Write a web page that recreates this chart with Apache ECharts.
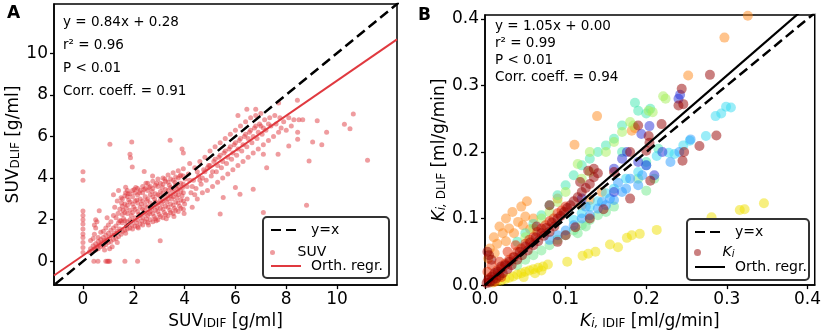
<!DOCTYPE html>
<html>
<head>
<meta charset="utf-8">
<script src="https://cdn.jsdelivr.net/npm/echarts@6/dist/echarts.min.js"></script>
<style>
html, body { margin: 0; padding: 0; background: #fff; }
#chart { width: 824px; height: 335px; }
</style>
</head>
<body>
<div id="chart"></div>
<script>
var FONT = 'DejaVu Sans';

// ---- panel A : SUV ----
var suvTicks = [0, 2, 4, 6, 8, 10];
var suvRange = [-1.14, 12.36];
var suvFit = { slope: 0.84, icpt: 0.28 };
var suvStats = ['y = 0.84x + 0.28', 'r² = 0.96', 'P < 0.01', 'Corr. coeff. = 0.91'];

// dense core, one row per x with its y values
var suvCoreRows = [
    [1.55, [1.45, 1.85, 2.25, 2.65, 3.0]],
    [1.65, [1.5, 1.95, 2.35, 2.75, 3.15]],
    [1.75, [1.55, 1.9, 2.3, 2.7, 3.1, 3.4]],
    [1.85, [1.6, 2.0, 2.45, 2.85, 3.25]],
    [1.95, [1.55, 1.95, 2.35, 2.75, 3.1, 3.4]],
    [2.05, [1.7, 2.1, 2.5, 2.9, 3.3]],
    [2.15, [1.65, 2.0, 2.4, 2.8, 3.2, 3.5]],
    [2.25, [1.8, 2.2, 2.6, 3.0, 3.4]],
    [2.35, [1.75, 2.1, 2.5, 2.9, 3.3, 3.6]],
    [2.45, [1.9, 2.3, 2.7, 3.1, 3.5]],
    [2.55, [1.85, 2.2, 2.6, 3.0, 3.4, 3.75]],
    [2.65, [2.0, 2.4, 2.8, 3.2, 3.6]],
    [2.75, [1.9, 2.3, 2.7, 3.1, 3.5, 3.85]],
    [2.85, [2.05, 2.45, 2.85, 3.25, 3.65]],
    [2.95, [2.0, 2.4, 2.8, 3.2, 3.6, 3.95]],
    [3.05, [2.15, 2.55, 2.95, 3.35, 3.75]],
    [3.15, [2.1, 2.5, 2.9, 3.3, 3.7, 4.0]],
    [3.25, [2.25, 2.65, 3.05, 3.45, 3.85]],
    [3.35, [2.2, 2.6, 3.0, 3.4, 3.8, 4.15]],
    [3.45, [2.35, 2.75, 3.15, 3.55, 3.95]],
    [3.55, [2.3, 2.7, 3.1, 3.5, 3.9, 4.25]],
    [3.65, [2.45, 2.85, 3.25, 3.65, 4.05]],
    [3.75, [2.4, 2.8, 3.2, 3.6, 4.0, 4.35]],
    [3.85, [2.55, 2.95, 3.35, 3.75, 4.15]],
    [3.95, [2.5, 2.9, 3.3, 3.7, 4.1, 4.45]]
];

var suvCoreExtra = [
    [1.6, 2.05], [1.7, 2.55], [1.72, 1.72], [1.8, 2.95], [1.9, 2.2], [1.92, 1.75], [2.0, 2.6], [2.02, 3.45], [2.1, 1.85],
    [2.12, 2.95], [2.2, 2.25], [2.22, 3.3], [2.3, 2.75], [2.32, 1.95], [2.4, 3.45], [2.42, 2.45], [2.5, 2.05], [2.52, 2.9],
    [2.6, 3.55], [2.62, 2.3], [2.7, 2.55], [2.72, 3.35], [2.8, 2.15], [2.82, 3.0], [2.9, 3.75], [2.92, 2.6], [3.0, 2.25],
    [3.02, 3.15], [3.1, 2.75], [3.12, 3.55], [3.2, 2.35], [3.22, 3.95], [3.3, 2.85], [3.32, 3.25], [3.4, 3.65], [3.42, 2.45],
    [3.5, 3.0], [3.52, 3.35], [3.6, 2.55], [3.62, 3.8], [3.7, 3.05], [3.72, 3.45], [3.8, 2.65], [3.82, 4.1], [3.9, 3.15],
    [3.92, 3.55], [4.0, 2.75], [4.02, 3.95], [1.58, 2.45], [1.68, 1.35], [1.78, 3.25], [2.08, 3.55], [2.18, 1.6], [2.48, 3.75],
    [2.58, 1.75], [2.88, 1.95], [3.28, 2.05], [3.58, 2.15], [3.98, 2.3], [1.38, 2.3], [1.45, 1.95], [1.52, 2.8]
];

var suvLow = [
    [0, 0.43], [0, 0.67], [0, 0.91], [0, 1.15], [0, 1.31], [0, 1.55], [0, 1.79], [0, 2.0], [0, 2.2], [0, 2.42], [0, 3.9], [0, 4.3],
    [0.43, 0], [0.59, 0], [0.9, 0], [0.96, 0], [1.0, 0], [1.05, 0], [1.65, 0], [2.15, 0],
    [0.25, 0.45], [0.3, 0.6], [0.35, 0.5], [0.4, 0.75], [0.45, 0.6], [0.5, 0.85], [0.5, 0.55], [0.55, 0.7], [0.6, 0.95],
    [0.6, 0.6], [0.65, 0.8], [0.7, 1.05], [0.7, 0.7], [0.75, 0.9], [0.8, 1.15], [0.8, 0.75], [0.85, 1.0], [0.9, 1.25],
    [0.9, 0.8], [0.95, 1.05], [1.0, 1.35], [1.0, 0.9], [1.05, 1.15], [1.1, 1.5], [1.1, 0.95], [1.15, 1.25], [1.2, 1.6],
    [1.2, 1.05], [1.25, 1.35], [1.3, 1.7], [1.3, 1.1], [1.35, 1.45], [1.4, 1.85], [1.4, 1.2], [1.45, 1.55], [1.5, 1.95],
    [1.5, 1.3], [0.45, 1.3], [0.5, 1.6], [0.55, 1.9], [0.6, 1.15], [0.5, 2.0], [0.9, 1.6], [0.3, 1.0], [1.0, 1.75],
    [0.8, 1.45], [0.64, 2.43], [0.4, 1.1], [0.45, 1.75], [0.95, 2.1], [1.2, 2.2], [1.25, 2.6], [1.35, 2.9], [1.2, 3.2],
    [1.4, 3.4], [1.5, 3.05], [1.45, 2.5], [0.7, 1.4], [1.1, 1.9], [1.3, 2.1], [0.85, 0.55], [1.15, 0.7], [1.35, 0.9], [1.05, 0.6]
];

var suvHigh = [
    [4.1, 3.0], [4.1, 3.6], [4.15, 4.2], [4.2, 4.7], [4.25, 3.3], [4.3, 2.6], [4.35, 3.9], [4.4, 4.5], [4.45, 3.5], [4.5, 3.0],
    [4.55, 4.1], [4.6, 4.8], [4.65, 3.7], [4.7, 3.3], [4.75, 4.4], [4.8, 5.0], [4.85, 3.9], [4.9, 3.4], [4.95, 4.6], [5.0, 5.3],
    [5.05, 4.1], [5.1, 3.6], [5.15, 4.8], [5.2, 5.5], [5.25, 4.3], [5.3, 3.8], [5.35, 5.0], [5.4, 5.7], [5.45, 4.5], [5.5, 4.0],
    [5.55, 5.2], [5.6, 5.9], [5.65, 4.7], [5.7, 4.2], [5.75, 5.4], [5.8, 6.1], [5.85, 4.9], [5.9, 4.4], [5.95, 5.6], [6.0, 6.3],
    [6.05, 5.1], [6.1, 4.6], [6.15, 5.8], [6.2, 6.5], [6.25, 5.3], [6.3, 4.8], [6.35, 6.0], [6.4, 6.7], [6.45, 5.5], [6.5, 5.0],
    [6.55, 6.2], [6.6, 6.9], [6.65, 5.7], [6.7, 5.2], [6.75, 6.4], [6.8, 7.0], [6.85, 5.9], [6.9, 5.4], [6.95, 6.6], [7.0, 7.1],
    [7.05, 6.1], [7.1, 5.6], [7.15, 6.8], [7.2, 6.3], [7.3, 5.8], [7.35, 6.9], [7.4, 6.5], [7.5, 6.0], [7.55, 7.0], [7.6, 6.6],
    [7.7, 6.2], [7.75, 6.9], [7.8, 6.4], [7.9, 6.7], [8.0, 6.3], [8.1, 6.9], [8.2, 6.5],
    [4.2, 3.9], [4.4, 3.2], [4.6, 3.9], [4.8, 4.3], [5.0, 4.6], [5.2, 4.9], [5.4, 5.1], [5.6, 5.3], [5.8, 5.5], [6.0, 5.7],
    [6.2, 5.9], [6.4, 6.1], [6.6, 6.3], [6.8, 6.5], [7.0, 6.5], [4.3, 3.6], [4.5, 4.3], [4.7, 4.0], [4.9, 4.5], [5.1, 4.3],
    [5.3, 4.6], [5.5, 4.8], [5.7, 5.0], [5.9, 5.2], [6.1, 5.4], [6.3, 5.6], [6.5, 5.9], [6.7, 6.0], [6.9, 6.2], [7.1, 6.4], [7.3, 6.6]
];

var suvOutliers = [
    [1.06, 5.62], [1.92, 5.73], [1.85, 5.15], [1.87, 4.98], [1.94, 4.53], [2.41, 4.31], [1.68, 3.56], [1.68, 3.3],
    [3.43, 5.82], [2.74, 4.1], [3.9, 5.4], [3.95, 5.2], [10.64, 7.08], [10.29, 6.59], [10.51, 6.37], [11.2, 4.85],
    [9.22, 6.75], [9.59, 6.2], [9.04, 5.73], [9.4, 5.6], [8.9, 4.82], [8.8, 2.7], [8.44, 7.74], [8.45, 5.86], [8.45, 6.2],
    [8.1, 5.54], [7.68, 5.14], [7.1, 5.14], [7.23, 4.5], [7.1, 2.35], [6.7, 3.46], [6.0, 3.55], [6.18, 3.22], [5.52, 3.07],
    [5.4, 2.27], [3.04, 0.99], [6.1, 7.0], [6.45, 7.3], [6.8, 7.3], [7.7, 7.6], [8.3, 6.8], [8.5, 6.8], [8.65, 6.8]
];

// ---- panel B : Ki ----
var kiTicks = [0, 0.1, 0.2, 0.3, 0.4];
var kiXRange = [0, 0.409];
var kiYRange = [0, 0.406];
var kiFit = { slope: 1.05, icpt: 0.0 };
var kiStats = ['y = 1.05x + 0.00', 'r² = 0.99', 'P < 0.01', 'Corr. coeff. = 0.94'];

var kiYellow = [
    [0.346, 0.123], [0.322, 0.114], [0.316, 0.113], [0.281, 0.102], [0.264, 0.087], [0.213, 0.083], [0.192, 0.077],
    [0.182, 0.075], [0.176, 0.071], [0.165, 0.057], [0.155, 0.061], [0.137, 0.05], [0.128, 0.047], [0.121, 0.044],
    [0.102, 0.035], [0.078, 0.031], [0.072, 0.028], [0.066, 0.026], [0.06, 0.024], [0.055, 0.022], [0.05, 0.02],
    [0.045, 0.018], [0.04, 0.016], [0.035, 0.013], [0.03, 0.011], [0.025, 0.009], [0.02, 0.007], [0.015, 0.006],
    [0.01, 0.004], [0.062, 0.018], [0.07, 0.022], [0.048, 0.012]
];
var kiOrange = [
    [0.326, 0.405], [0.297, 0.372], [0.252, 0.315], [0.139, 0.254], [0.111, 0.211], [0.052, 0.126], [0.045, 0.118],
    [0.034, 0.11], [0.05, 0.103], [0.026, 0.1], [0.041, 0.095], [0.018, 0.088], [0.03, 0.085], [0.047, 0.09],
    [0.022, 0.078], [0.011, 0.072], [0.036, 0.078], [0.015, 0.062], [0.026, 0.066], [0.006, 0.055], [0.012, 0.048],
    [0.004, 0.04], [0.182, 0.232], [0.186, 0.236], [0.06, 0.1], [0.056, 0.084], [0.09, 0.13], [0.12, 0.12],
    [0.13, 0.128], [0.145, 0.14]
];
var kiTeal = [
    [0.186, 0.274], [0.19, 0.262], [0.205, 0.265], [0.2, 0.258], [0.17, 0.24], [0.15, 0.21], [0.16, 0.22], [0.14, 0.2],
    [0.13, 0.19], [0.12, 0.18], [0.11, 0.165], [0.1, 0.15], [0.09, 0.135], [0.08, 0.12], [0.07, 0.105], [0.06, 0.092],
    [0.05, 0.078], [0.04, 0.065], [0.17, 0.2], [0.2, 0.185], [0.215, 0.205]
];
var kiLime = [
    [0.221, 0.284], [0.224, 0.28], [0.203, 0.262], [0.208, 0.26], [0.18, 0.245], [0.184, 0.24], [0.17, 0.23],
    [0.16, 0.215], [0.15, 0.2], [0.13, 0.17], [0.12, 0.16], [0.1, 0.14], [0.09, 0.125], [0.08, 0.11], [0.07, 0.1],
    [0.06, 0.085], [0.05, 0.072], [0.13, 0.2], [0.115, 0.182]
];
var kiGreen = [
    [0.06, 0.045], [0.07, 0.052], [0.08, 0.06], [0.09, 0.068], [0.1, 0.075], [0.11, 0.082], [0.12, 0.09], [0.13, 0.098],
    [0.14, 0.105], [0.15, 0.11], [0.16, 0.118], [0.05, 0.038], [0.04, 0.03], [0.115, 0.078], [0.125, 0.088],
    [0.2, 0.142], [0.19, 0.16], [0.21, 0.16]
];
var kiCyan = [
    [0.305, 0.267], [0.299, 0.268], [0.293, 0.258], [0.286, 0.254], [0.274, 0.224], [0.254, 0.217], [0.246, 0.21],
    [0.235, 0.197], [0.228, 0.199], [0.213, 0.194], [0.2, 0.18], [0.19, 0.17], [0.175, 0.16], [0.16, 0.145],
    [0.15, 0.138], [0.14, 0.126], [0.13, 0.118], [0.12, 0.108], [0.11, 0.098]
];
var kiSky = [
    [0.165, 0.154], [0.18, 0.16], [0.195, 0.165], [0.17, 0.14], [0.155, 0.13], [0.14, 0.115], [0.13, 0.105], [0.12, 0.1],
    [0.11, 0.09], [0.1, 0.082], [0.09, 0.075], [0.15, 0.12], [0.16, 0.128], [0.175, 0.145], [0.19, 0.15], [0.08, 0.068],
    [0.125, 0.118], [0.145, 0.125], [0.23, 0.185], [0.255, 0.219], [0.241, 0.2]
];
var kiBlue = [
    [0.24, 0.28], [0.242, 0.286], [0.204, 0.239], [0.194, 0.227], [0.176, 0.2], [0.17, 0.19], [0.16, 0.175], [0.2, 0.18],
    [0.22, 0.2], [0.16, 0.14], [0.12, 0.13], [0.19, 0.185], [0.21, 0.165]
];
var kiRed = [
    [0.005, 0.01], [0.01, 0.015], [0.015, 0.022], [0.02, 0.025], [0.025, 0.032], [0.03, 0.038], [0.035, 0.042], [0.04, 0.05],
    [0.045, 0.055], [0.05, 0.062], [0.055, 0.068], [0.06, 0.072], [0.065, 0.08], [0.07, 0.085], [0.075, 0.09], [0.08, 0.096],
    [0.085, 0.1], [0.09, 0.108], [0.095, 0.112], [0.1, 0.118], [0.018, 0.035], [0.028, 0.05], [0.038, 0.06], [0.008, 0.03],
    [0.003, 0.02], [0.012, 0.005], [0.02, 0.012]
];
var kiDarkRed = [
    [0.002, 0.003], [0.004, 0.008], [0.006, 0.004], [0.008, 0.012], [0.01, 0.008], [0.012, 0.018], [0.014, 0.01], [0.016, 0.02],
    [0.018, 0.014], [0.02, 0.028], [0.022, 0.018], [0.025, 0.03], [0.028, 0.024], [0.03, 0.035], [0.033, 0.03], [0.036, 0.042],
    [0.04, 0.038], [0.043, 0.05], [0.046, 0.045], [0.05, 0.058], [0.053, 0.052], [0.056, 0.064], [0.06, 0.06], [0.063, 0.072],
    [0.066, 0.066], [0.07, 0.078], [0.073, 0.074], [0.076, 0.086], [0.08, 0.08], [0.083, 0.094], [0.086, 0.088], [0.09, 0.1],
    [0.094, 0.104], [0.098, 0.11], [0.102, 0.116], [0.106, 0.12], [0.11, 0.126], [0.115, 0.132], [0.12, 0.14], [0.125, 0.146],
    [0.13, 0.152], [0.135, 0.162], [0.14, 0.168], [0.128, 0.172], [0.135, 0.175], [0.118, 0.155], [0.005, 0.045], [0.008, 0.038],
    [0.003, 0.05], [0.279, 0.316], [0.244, 0.295], [0.24, 0.27], [0.246, 0.272], [0.219, 0.242], [0.203, 0.224], [0.204, 0.214],
    [0.2, 0.202], [0.247, 0.2], [0.245, 0.187], [0.266, 0.209], [0.287, 0.225], [0.205, 0.157], [0.18, 0.13], [0.147, 0.114],
    [0.112, 0.087], [0.18, 0.2], [0.16, 0.17], [0.19, 0.24], [0.064, 0.088], [0.08, 0.12], [0.1, 0.075], [0.13, 0.1], [0.09, 0.065]
];

var kiGroups = [
    { data: kiYellow, color: '#f0e000' },
    { data: kiOrange, color: '#ff8a1c' },
    { data: kiTeal, color: '#40e8b0' },
    { data: kiLime, color: '#a6f05a' },
    { data: kiGreen, color: '#70ea8c' },
    { data: kiCyan, color: '#36dcf2' },
    { data: kiSky, color: '#2a9cff' },
    { data: kiBlue, color: '#2830d8' },
    { data: kiRed, color: '#e62a00' },
    { data: kiDarkRed, color: '#960000' }
];

var suvPoints = [];
suvCoreRows.forEach(function (r) {
    r[1].forEach(function (y) { suvPoints.push([r[0], y]); });
});
suvPoints = suvPoints.concat(suvCoreExtra, suvLow, suvHigh, suvOutliers);

function fitLine(f, lo, hi) {
    return [[lo, f.slope * lo + f.icpt], [hi, f.slope * hi + f.icpt]];
}

var subRich = {
    s: { fontSize: 12, fontFamily: FONT, lineHeight: 8, verticalAlign: 'bottom' },
    si: { fontSize: 12, fontFamily: FONT, fontStyle: 'italic', lineHeight: 8, verticalAlign: 'bottom' },
    k: { fontSize: 17, fontFamily: FONT, fontStyle: 'italic' }
};

function axis(gridIndex, range, ticks, fmt, name, gap) {
    return {
        type: 'value', gridIndex: gridIndex, min: range[0], max: range[1],
        name: name, nameLocation: 'middle', nameGap: gap,
        nameTextStyle: { fontSize: 17, fontFamily: FONT, color: '#000', rich: subRich },
        axisLine: { show: true, onZero: false, lineStyle: { color: '#000', width: 1.5 } },
        axisTick: { show: true, length: 4, customValues: ticks, lineStyle: { color: '#000', width: 1.3 } },
        axisLabel: { customValues: ticks, formatter: fmt, fontSize: 17, fontFamily: FONT, color: '#000', margin: 6 },
        splitLine: { show: false }
    };
}

var intFmt = function (v) { return String(Math.round(v)); };
var decFmt = function (v) { return v.toFixed(1); };

var series = [];
series.push({
    name: 'SUV', type: 'scatter', xAxisIndex: 0, yAxisIndex: 0, data: suvPoints,
    symbolSize: 5, itemStyle: { color: '#e0393f', opacity: 0.5 }, silent: true
});
series.push({
    name: 'yxA', type: 'line', xAxisIndex: 0, yAxisIndex: 0, data: [[-2, -2], [13, 13]],
    symbol: 'none', itemStyle: { color: '#000' }, lineStyle: { color: '#000', width: 2.5, type: [10, 5] }, clip: true
});
series.push({
    name: 'regA', type: 'line', xAxisIndex: 0, yAxisIndex: 0, data: fitLine(suvFit, suvRange[0], suvRange[1]),
    symbol: 'none', itemStyle: { color: '#e0393f' }, lineStyle: { color: '#e0393f', width: 2 }, clip: true
});
kiGroups.forEach(function (g, i) {
    series.push({
        name: i === kiGroups.length - 1 ? 'Ki' : 'ki' + i, type: 'scatter', xAxisIndex: 1, yAxisIndex: 1, data: g.data,
        symbolSize: 10, itemStyle: { color: g.color, opacity: 0.5 }, silent: true
    });
});
series.push({
    name: 'yxB', type: 'line', xAxisIndex: 1, yAxisIndex: 1, data: [[0, 0], [0.41, 0.41]],
    symbol: 'none', itemStyle: { color: '#000' }, lineStyle: { color: '#000', width: 2.5, type: [10, 5] }, clip: true
});
series.push({
    name: 'regB', type: 'line', xAxisIndex: 1, yAxisIndex: 1, data: fitLine(kiFit, 0, 0.41),
    symbol: 'none', itemStyle: { color: '#000' }, lineStyle: { color: '#000', width: 2.2 }, clip: true
});

var legendLabels = { yxA: 'y=x', regA: 'Orth. regr.', SUV: 'SUV', yxB: 'y=x', regB: 'Orth. regr.', Ki: '{k|K}{si|i}' };
function leg(name, left, top, h, isLine) {
    var l = {
        data: [name], left: left, top: top, itemWidth: 30, itemHeight: h, padding: 0, z: 6,
        selectedMode: false,
        formatter: function (n) { return legendLabels[n]; },
        textStyle: {
            fontSize: 14, fontFamily: FONT, color: '#000', padding: [0, 0, 0, 5],
            rich: {
                k: { fontSize: 14, fontFamily: FONT, fontStyle: 'italic' },
                si: { fontSize: 10, fontFamily: FONT, fontStyle: 'italic', lineHeight: 6, verticalAlign: 'bottom' }
            }
        }
    };
    if (isLine) {
        l.itemStyle = { opacity: 0 };
    }
    return l;
}

function statsText(lines, x, y0, dy) {
    return lines.map(function (t, i) {
        return {
            type: 'text', x: x, y: y0 + i * dy,
            style: { text: t, fontSize: 13.5, fontFamily: FONT, fill: '#000', verticalAlign: 'middle' }
        };
    });
}

var chart = echarts.init(document.getElementById('chart'));
chart.setOption({
    backgroundColor: '#fff',
    animation: false,
    grid: [
        { left: 54, top: 4, width: 343, height: 282, show: true, borderColor: '#000', borderWidth: 1.5, containLabel: false },
        { left: 485, top: 15, width: 331, height: 272, show: true, borderColor: '#000', borderWidth: 1.5, containLabel: false }
    ],
    xAxis: [
        axis(0, suvRange, suvTicks, intFmt, 'SUV{s|IDIF} [g/ml]', 24),
        axis(1, kiXRange, kiTicks, decFmt, '{k|K}{si|i, }{s|IDIF} [ml/g/min]', 24)
    ],
    yAxis: [
        axis(0, suvRange, suvTicks, intFmt, 'SUV{s|DLIF} [g/ml]', 32),
        axis(1, kiYRange, kiTicks, decFmt, '{k|K}{si|i, }{s|DLIF} [ml/g/min]', 34)
    ],
    legend: [
        leg('yxA', 270, 223, 14, true), leg('SUV', 270, 245.5, 5, false), leg('regA', 270, 259, 14, true),
        leg('yxB', 694, 225, 14, true), leg('Ki', 694, 245.5, 7, false), leg('regB', 694, 260, 14, true)
    ],
    graphic: [
        { type: 'rect', shape: { x: 263, y: 217, width: 126, height: 61, r: 4 }, style: { fill: '#fff', stroke: '#333', lineWidth: 2 }, z: 3 },
        { type: 'rect', shape: { x: 687, y: 219, width: 122, height: 61, r: 4 }, style: { fill: '#fff', stroke: '#333', lineWidth: 2 }, z: 3 },
        { type: 'text', x: 7, y: 14, style: { text: 'A', fontSize: 17, fontWeight: 'bold', fontFamily: FONT, fill: '#000', verticalAlign: 'middle' } },
        { type: 'text', x: 418, y: 16, style: { text: 'B', fontSize: 17, fontWeight: 'bold', fontFamily: FONT, fill: '#000', verticalAlign: 'middle' } }
    ].concat(statsText(suvStats, 63, 22, 23.3), statsText(kiStats, 495, 26, 17.3)),
    series: series
});
</script>
</body>
</html>
